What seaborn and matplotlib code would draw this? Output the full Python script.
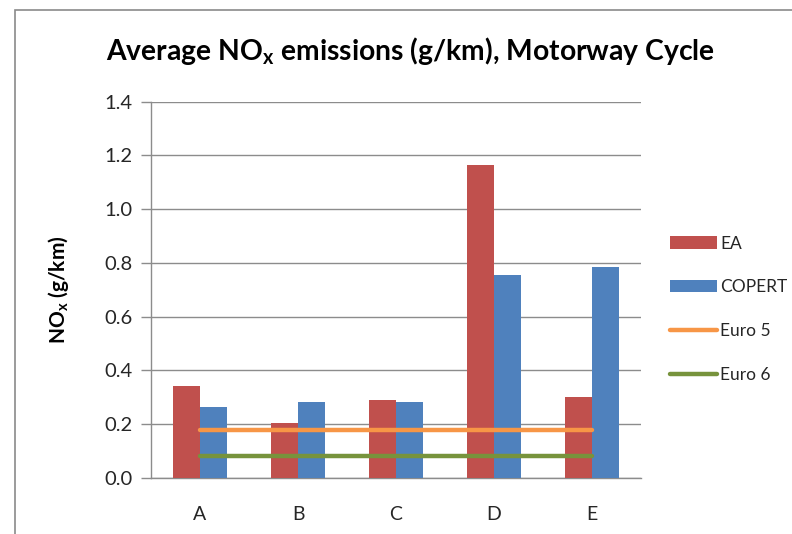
import matplotlib
matplotlib.use("Agg")
import matplotlib.pyplot as plt
from matplotlib.patches import Rectangle
import seaborn as sns
import pandas as pd

# Vehicle categories and measured / modelled NOx values (g/km)
categories = ["A", "B", "C", "D", "E"]
ea_values = [0.343, 0.206, 0.290, 1.165, 0.302]
copert_values = [0.264, 0.281, 0.281, 0.757, 0.786]
euro5_limit = [0.18, 0.18, 0.18, 0.18, 0.18]
euro6_limit = [0.08, 0.08, 0.08, 0.08, 0.08]
yticks = [0.0, 0.2, 0.4, 0.6, 0.8, 1.0, 1.2, 1.4]

sns.set_theme(style="white")
plt.rcParams["font.family"] = ["Lato", "DejaVu Sans"]
plt.rcParams["mathtext.fontset"] = "custom"
plt.rcParams["mathtext.rm"] = "Lato"

df = pd.DataFrame({
    "category": categories * 2,
    "value": ea_values + copert_values,
    "source": ["EA"] * len(categories) + ["COPERT"] * len(categories),
})

fig = plt.figure(figsize=(7.92, 5.34), dpi=100)
ax = fig.add_axes([151 / 792, 1 - 478 / 534, 490 / 792, 376.3 / 534])

grid_col = "#8c8c8c"
text_col = "#262626"

sns.barplot(data=df, x="category", y="value", hue="source",
            palette={"EA": "#C0504D", "COPERT": "#4F81BD"},
            width=0.56, saturation=1, linewidth=0, ax=ax, zorder=3)

ax.plot(range(len(categories)), euro5_limit, color="#F79646", lw=3.2,
        solid_capstyle="round", label="Euro 5", zorder=4)
ax.plot(range(len(categories)), euro6_limit, color="#77933C", lw=3.2,
        solid_capstyle="round", label="Euro 6", zorder=4)

ax.set_xlim(-0.5, len(categories) - 0.5)
ax.set_ylim(0, 1.4)
ax.set_yticks(yticks)
ax.set_yticklabels([f"{t:.1f}" for t in yticks])
ax.yaxis.grid(True, color=grid_col, lw=1)
ax.set_axisbelow(True)
for side in ("top", "right"):
    ax.spines[side].set_visible(False)
for side in ("left", "bottom"):
    ax.spines[side].set_color(grid_col)
    ax.spines[side].set_linewidth(1)
ax.tick_params(axis="y", left=True, length=7, width=1, color=grid_col,
               labelsize=14.5, labelcolor=text_col, pad=6)
ax.tick_params(axis="x", bottom=False, labelsize=14, labelcolor=text_col, pad=14)
ax.set_xlabel("")
ax.set_ylabel(r"NO$_\mathregular{x}$ (g/km)", fontsize=15, fontweight="bold",
              color="black")
ax.yaxis.set_label_coords(-0.163, 0.5)

handles, labels = ax.get_legend_handles_labels()
ax.legend(handles, labels, loc="upper left", bbox_to_anchor=(654 / 792, 1 - 220 / 534),
          bbox_transform=fig.transFigure, frameon=False, fontsize=12.5,
          handlelength=2.7, handleheight=0.7, handletextpad=0.2, labelspacing=1.6,
          labelcolor=text_col)

fig.text(0.518, 1 - 51 / 534, r"Average NO$_\mathregular{x}$ emissions (g/km), Motorway Cycle",
         ha="center", va="center", fontsize=20.3, fontweight="bold", color="black")

# Chart-area frame
fig.add_artist(Rectangle((15 / 792, -0.5), 2, 0.5 + 1 - 10 / 534,
                         transform=fig.transFigure, fill=False,
                         edgecolor="#8a8a8a", lw=1.2, clip_on=False))

fig.savefig("out.png", dpi=100)
